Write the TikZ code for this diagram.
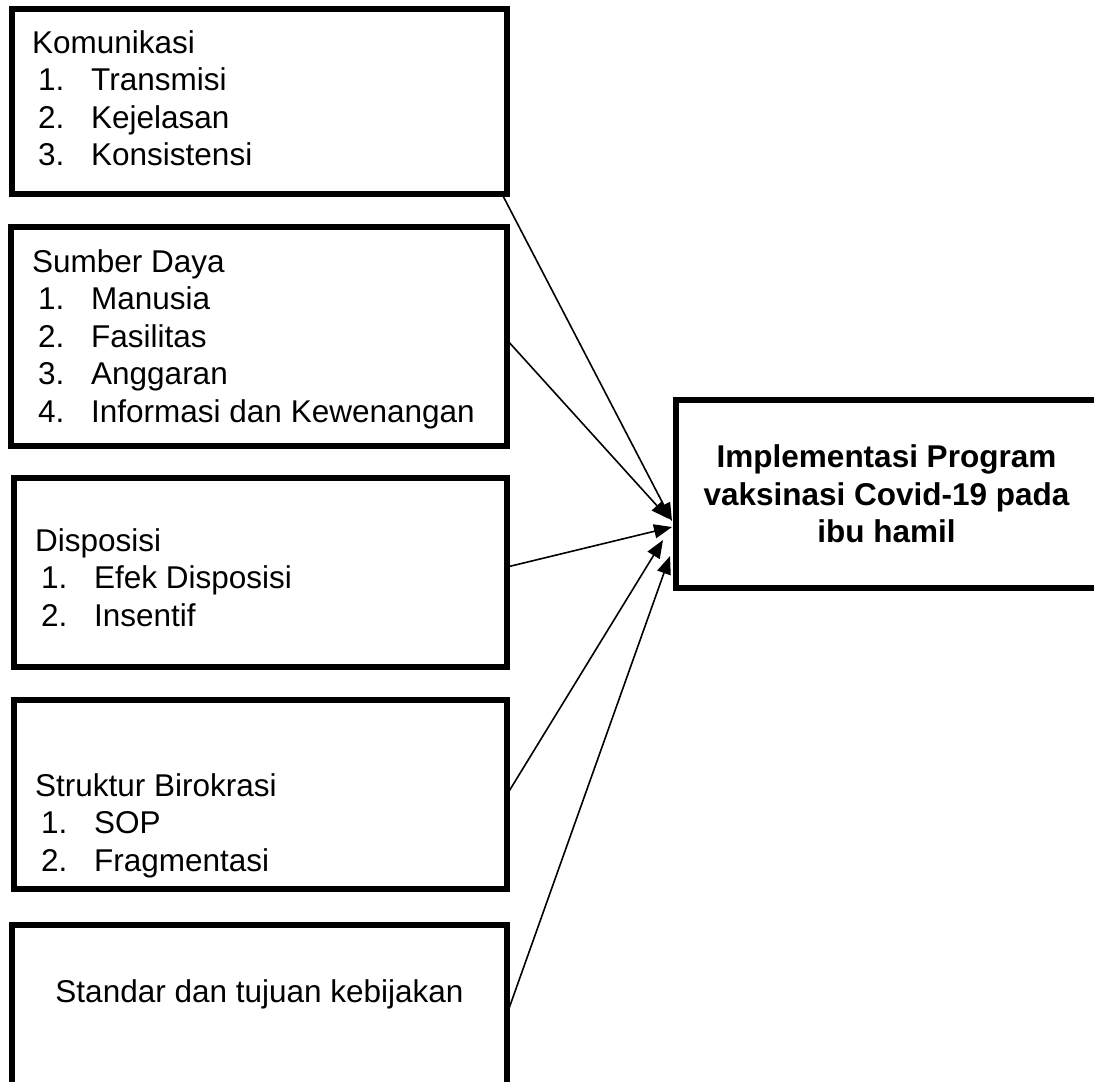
\documentclass[tikz,border=0pt]{standalone}
\usepackage{fontspec}
\setmainfont{Liberation Sans}
\usetikzlibrary{arrows.meta, positioning, calc}

\newcommand{\butir}[2]{\hspace*{6pt}\makebox[53pt][l]{#1}#2}

\begin{document}
\begin{tikzpicture}[
        x=1pt, y=-1pt,
        kotak/.style={rectangle, draw, line width=5.2pt, inner sep=0pt, outer sep=0pt},
        teks/.style={inner sep=0pt, anchor=base west, font=\fontsize{31.5}{37.5}\selectfont},
        panah/.style={-{Triangle[length=18pt, width=14pt]}, line width=1.6pt}
    ]
        \useasboundingbox (0,0) rectangle (1094,1081);
        \clip (0,0) rectangle (1094,1081);

        % faktor-faktor di kiri
        \node[kotak, minimum width=495pt, minimum height=185pt] (kom) at (259.5,101.5) {};
        \node[kotak, minimum width=496pt, minimum height=219pt] (sd) at (259,336.5) {};
        \node[kotak, minimum width=493pt, minimum height=189pt] (dis) at (260.5,572.5) {};
        \node[kotak, minimum width=493pt, minimum height=189pt] (sb) at (260.5,794.5) {};
        \node[kotak, minimum width=495pt, minimum height=165pt] (std) at (259.5,1007.5) {};

        \node[teks] (tkom) at (32,53) {\begin{tabular}[t]{@{}l@{}}
            Komunikasi\\ \butir{1.}{Transmisi}\\ \butir{2.}{Kejelasan}\\ \butir{3.}{Konsistensi}
        \end{tabular}};
        \node[teks] (tsd) at (32,272) {\begin{tabular}[t]{@{}l@{}}
            Sumber Daya\\ \butir{1.}{Manusia}\\ \butir{2.}{Fasilitas}\\ \butir{3.}{Anggaran}\\ \butir{4.}{Informasi dan Kewenangan}
        \end{tabular}};
        \node[teks] (tdis) at (35,551) {\begin{tabular}[t]{@{}l@{}}
            Disposisi\\ \butir{1.}{Efek Disposisi}\\ \butir{2.}{Insentif}
        \end{tabular}};
        \node[teks] (tsb) at (35,796) {\begin{tabular}[t]{@{}l@{}}
            Struktur Birokrasi\\ \butir{1.}{SOP}\\ \butir{2.}{Fragmentasi}
        \end{tabular}};
        \node[teks, anchor=base] (tstd) at (259.5,1002) {Standar dan tujuan kebijakan};

        % variabel terikat
        \node[kotak, minimum width=421pt, minimum height=188pt, align=center,
              font=\fontsize{31.5}{37.5}\selectfont\bfseries] (hasil) at (886.5,494)
            {Implementasi Program\\ vaksinasi Covid-19 pada\\ ibu hamil};

        \draw[panah] ([xshift=-5pt]kom.south east) -- ([xshift=-4pt, yshift=-27pt]hasil.west);
        \draw[panah] ([yshift=-3.5pt]sd.east) -- ([xshift=-7pt, yshift=-25pt]hasil.west);
        \draw[panah] ([yshift=5.5pt]dis.east) -- ([xshift=-4pt, yshift=-33pt]hasil.west);
        \draw[panah] (sb.east) -- ([xshift=-13pt, yshift=-46pt]hasil.west);
        \draw[panah] ([yshift=-6.5pt]std.east) -- ([xshift=-6pt, yshift=-62pt]hasil.west);
    \end{tikzpicture}
\end{document}
